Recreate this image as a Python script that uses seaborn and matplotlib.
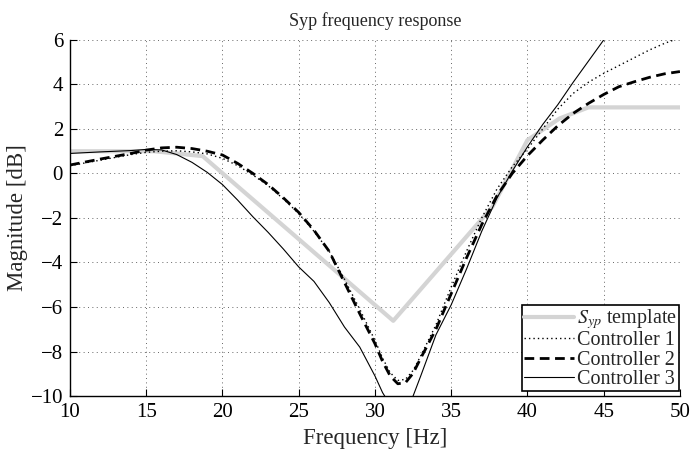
import numpy as np
import pandas as pd
import matplotlib
matplotlib.use("Agg")
import matplotlib.pyplot as plt
import seaborn as sns

# ---- data ----
tmpl_f = [10, 15.5, 18.7, 31.2, 37.7, 40, 42.1, 44, 50]
tmpl_db = [1.0, 1.0, 0.78, -6.62, -1.5, 1.5, 2.47, 2.97, 2.97]

c1_f = [10, 12, 14, 15, 16, 17, 18, 19, 20, 21, 22, 23, 24, 25, 26, 27, 28, 29, 30,
        30.5, 31, 31.5, 32, 32.5, 33, 34, 35, 36, 37, 38, 39, 40, 41, 42, 43, 44, 45,
        46, 47, 48, 49, 50]
c1_db = [0.35, 0.6, 0.85, 0.95, 1.0, 1.02, 0.97, 0.88, 0.68, 0.35, -0.07, -0.55, -1.15,
         -1.8, -2.6, -3.5, -4.75, -6.1, -7.5, -8.3, -8.95, -9.3, -9.25, -8.85, -8.2,
         -6.8, -5.1, -3.5, -2.0, -0.7, 0.3, 1.1, 2.0, 2.9, 3.6, 4.1, 4.5, 4.85, 5.2,
         5.55, 5.85, 6.1]

c2_f = [10, 12, 14, 15, 16, 17, 18, 19, 20, 21, 22, 23, 24, 25, 26, 27, 28, 29, 30,
        30.5, 31, 31.5, 32, 32.5, 33, 34, 35, 36, 37, 38, 39, 40, 41, 42, 43, 44, 45,
        46, 47, 48, 49, 50]
c2_db = [0.38, 0.65, 0.9, 1.05, 1.15, 1.18, 1.12, 1.0, 0.83, 0.45, 0.0, -0.5, -1.1,
         -1.75, -2.55, -3.5, -4.9, -6.3, -7.65, -8.45, -9.1, -9.45, -9.4, -8.98, -8.3,
         -7.0, -5.4, -3.8, -2.3, -1.0, 0.0, 0.8, 1.5, 2.15, 2.7, 3.15, 3.55, 3.9, 4.12,
         4.32, 4.48, 4.58]

c3_f = [10, 12, 14, 15, 16, 17, 18, 19, 20, 21, 22, 23, 24, 25, 26, 27, 28, 29, 30,
        30.5, 31, 31.5, 32, 32.5, 33, 34, 35, 36, 37, 38, 39, 40, 41, 42, 43, 44, 45, 46]
c3_db = [0.9, 0.97, 1.03, 1.08, 1.06, 0.85, 0.5, 0.05, -0.5, -1.2, -1.95, -2.65, -3.4,
         -4.2, -4.85, -5.8, -6.9, -7.8, -9.1, -9.85, -10.4, -10.6, -10.45, -10.0, -9.1,
         -7.25, -5.9, -4.3, -2.6, -1.1, 0.1, 1.2, 2.2, 3.1, 4.1, 5.05, 6.0, 7.0]

xticks = [10, 15, 20, 25, 30, 35, 40, 45, 50]
yticks = [-10, -8, -6, -4, -2, 0, 2, 4, 6]

labels = [r"$S_{yp}$ template", "Controller 1", "Controller 2", "Controller 3"]

# ---- styling ----
sns.set_style("ticks")
plt.rcParams["font.family"] = ["Liberation Serif", "DejaVu Serif"]
plt.rcParams["mathtext.fontset"] = "stix"

fig = plt.figure(figsize=(6.91, 4.53), dpi=100)
ax = fig.add_axes([0.1013, 0.1258, 0.8827, 0.786])

ax.grid(True, which="major", color="#666666", linestyle=(0, (1, 3.5)), linewidth=0.7)
ax.set_axisbelow(True)

sns.lineplot(x=tmpl_f, y=tmpl_db, ax=ax, color="#d4d4d4", linewidth=3.0,
             label=labels[0], sort=False)
sns.lineplot(x=c1_f, y=c1_db, ax=ax, color="black", linewidth=1.0,
             linestyle=(0, (1, 2.2)), label=labels[1], sort=False)
sns.lineplot(x=c2_f, y=c2_db, ax=ax, color="black", linewidth=2.0,
             linestyle=(0, (3.5, 2)), label=labels[2], sort=False)
sns.lineplot(x=c3_f, y=c3_db, ax=ax, color="black", linewidth=0.8,
             label=labels[3], sort=False)

ax.set_xlim(10, 50)
ax.set_ylim(-10, 6)
ax.set_xticks(xticks)
ax.set_yticks(yticks)
ax.set_xticklabels([str(t) for t in xticks])
ax.set_yticklabels([("\u2212" + str(-t)) if t < 0 else str(t) for t in yticks])
ax.tick_params(direction="in", length=5, width=0.8, labelsize=15, pad=3,
               colors="black")
ax.tick_params(axis="x", pad=5)
ax.tick_params(axis="y", pad=5)

for s in ["top", "right"]:
    ax.spines[s].set_visible(False)
for s in ["left", "bottom"]:
    ax.spines[s].set_linewidth(1.0)
    ax.spines[s].set_color("black")

ax.set_xlabel("Frequency [Hz]", fontsize=16.5, labelpad=4)
ax.set_ylabel("Magnitude [dB]", fontsize=16.5, labelpad=2)
ax.set_title("Syp frequency response", fontsize=13, pad=10)

leg = ax.legend(loc="lower right", fontsize=14.5, frameon=True, fancybox=False,
                borderpad=0.1, labelspacing=0.0, handlelength=2.5,
                handletextpad=0.15, borderaxespad=0.0,
                bbox_to_anchor=(0.9985, 0.015))
leg.get_frame().set_edgecolor("black")
leg.get_frame().set_linewidth(1.2)
leg.get_frame().set_alpha(1.0)

fig.savefig("out.png", dpi=100)
